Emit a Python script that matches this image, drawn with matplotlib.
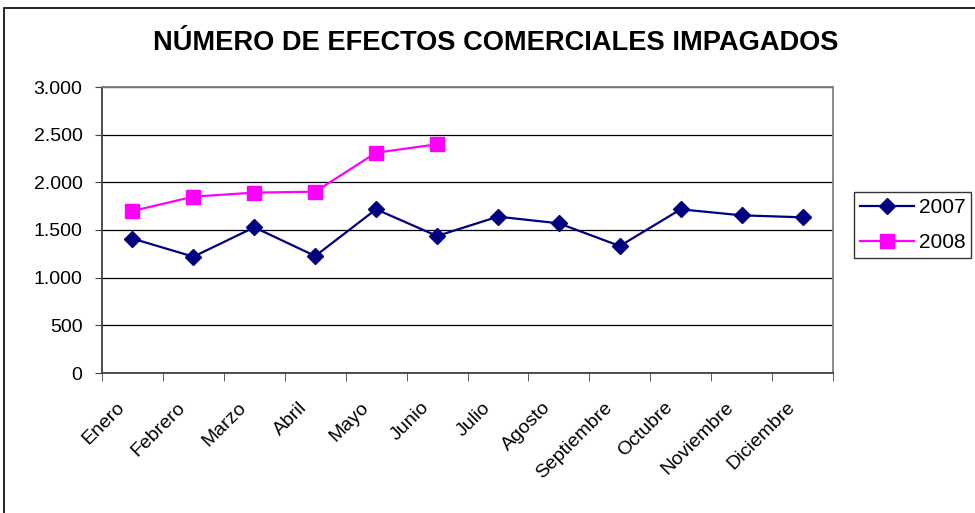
import numpy as np
import matplotlib
matplotlib.use("Agg")
from matplotlib import pyplot as plt
from matplotlib.ticker import FuncFormatter, FixedLocator
from matplotlib.patches import Rectangle

# === datos ===
meses = ["Enero", "Febrero", "Marzo", "Abril", "Mayo", "Junio", "Julio",
         "Agosto", "Septiembre", "Octubre", "Noviembre", "Diciembre"]
valores_2007 = [1410, 1220, 1528, 1227, 1717, 1437, 1640, 1570, 1332, 1717, 1654, 1633]
valores_2008 = [1699, 1850, 1892, 1902, 2311, 2399]

plt.rcParams['font.family'] = ['Liberation Sans', 'DejaVu Sans']

fig = plt.figure(figsize=(9.75, 5.13), dpi=100)
# marco del grafico
fig.patches.append(Rectangle((4 / 975, -0.1), 1.2, 1 - 8 / 513 + 0.1, transform=fig.transFigure,
                             fill=False, edgecolor="black", linewidth=1.2))

ax = fig.add_axes([102 / 975, 1 - 373 / 513, 731 / 975, 286 / 513])

x = np.arange(len(meses))
ax.plot(x, valores_2007, color="#000080", marker="D", markersize=8.5, linewidth=1.6, label="2007")
ax.plot(x[:len(valores_2008)], valores_2008, color="#FF00FF", marker="s", markersize=10.5,
        linewidth=1.6, label="2008")

ax.set_xlim(-0.5, len(meses) - 0.5)
ax.set_ylim(0, 3000)
ax.set_yticks(np.arange(0, 3001, 500))
ax.yaxis.set_major_formatter(FuncFormatter(lambda v, p: f"{int(v):,}".replace(",", ".")))
ax.grid(True, axis="y", color="black", linewidth=0.9)
ax.set_axisbelow(True)

# etiquetas un poco a la izquierda del centro de cada mes (como en Excel)
ax.set_xticks(x - 0.17)
ax.set_xticklabels(meses, rotation=45, ha="right", va="center", rotation_mode="anchor")
ax.xaxis.set_minor_locator(FixedLocator(np.arange(-0.5, len(meses), 1)))
ax.tick_params(axis="x", which="major", length=0, pad=23, labelsize=14)
ax.tick_params(axis="x", which="minor", length=6, direction="out", color="#404040")
ax.tick_params(axis="y", length=5, pad=9, direction="out", labelsize=14, color="#404040")

for s in ["left", "bottom"]:
    ax.spines[s].set_color("#404040")
    ax.spines[s].set_linewidth(1.3)
for s in ["top", "right"]:
    ax.spines[s].set_color("#808080")
    ax.spines[s].set_linewidth(1.3)

fig.text(496 / 975, 1 - 43 / 513, "NÚMERO DE EFECTOS COMERCIALES IMPAGADOS",
         ha="center", va="center", fontsize=19.6, fontweight="bold")

leg = fig.legend(loc="upper left", bbox_to_anchor=(854 / 975, 1 - 192 / 513),
                 frameon=True, fancybox=False, edgecolor="black", fontsize=15,
                 handlelength=2.6, borderpad=0.3, labelspacing=0.75, handletextpad=0.2,
                 borderaxespad=0)
leg.get_frame().set_linewidth(1.0)

plt.savefig("out.png", dpi=100)
